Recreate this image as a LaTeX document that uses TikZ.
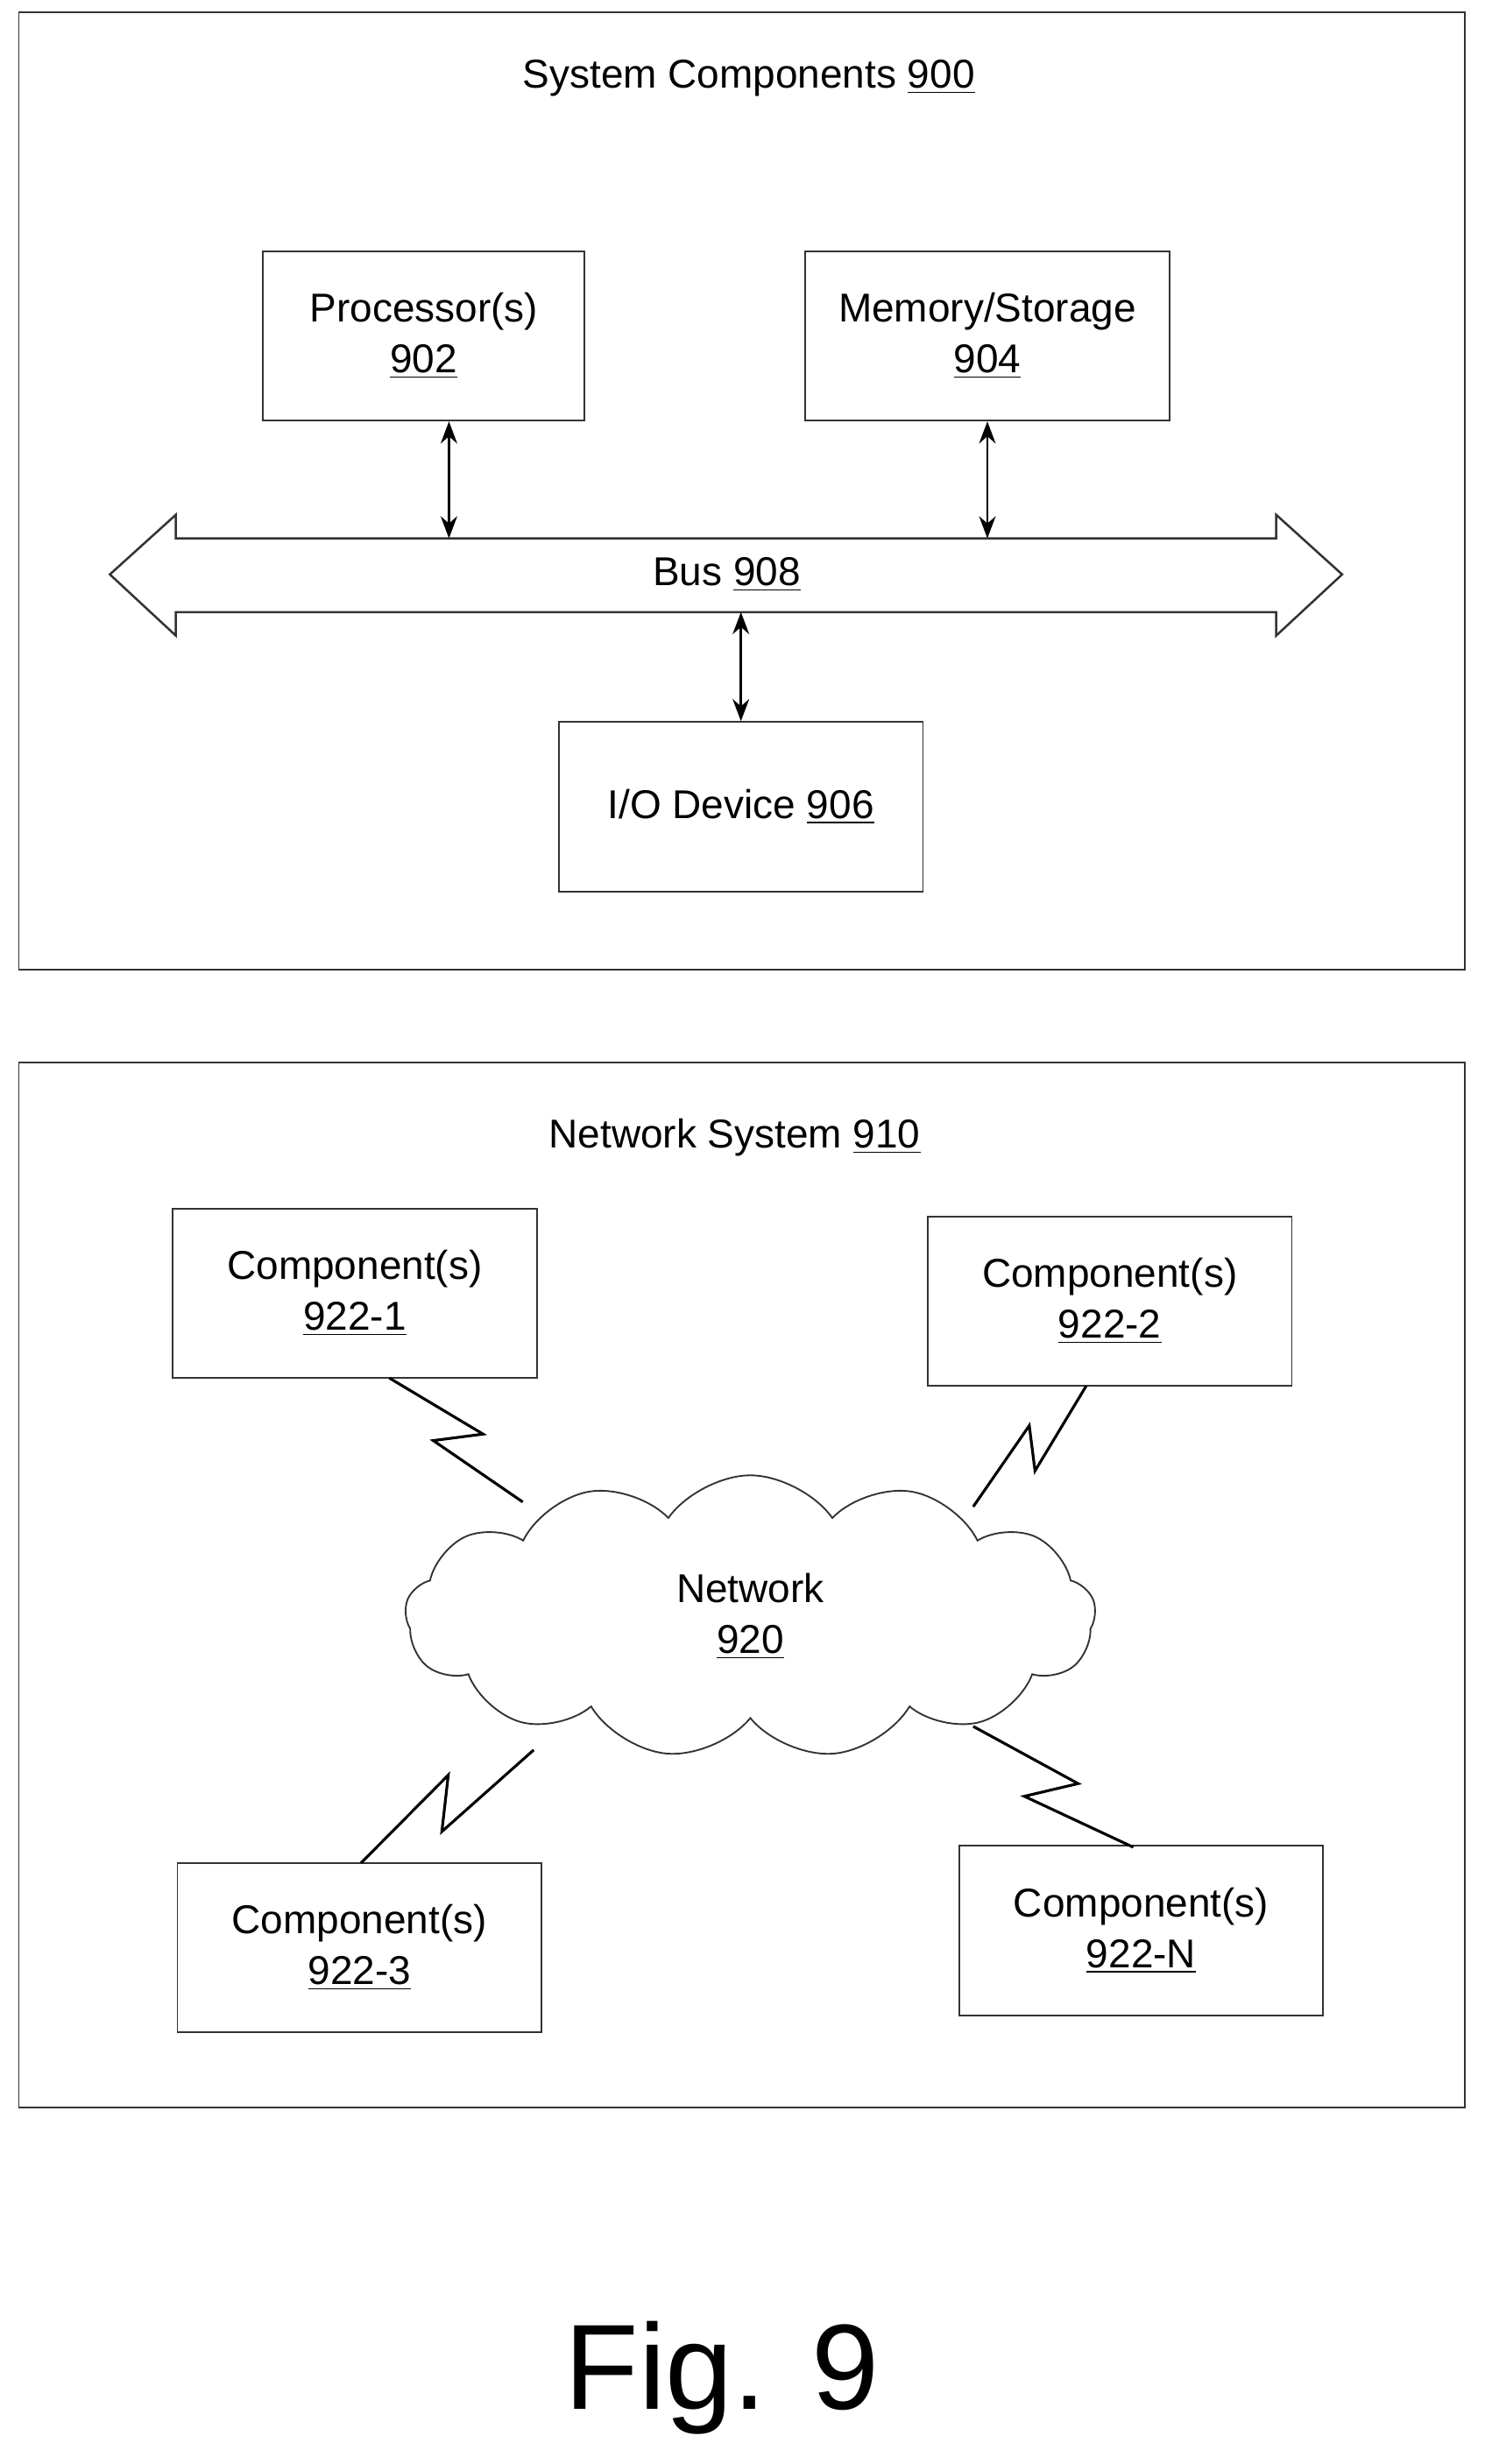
\documentclass[tikz,border=0pt]{standalone}
\usepackage{fontspec}
\setmainfont{Liberation Sans}
\usetikzlibrary{shapes.symbols,calc,arrows.meta}

\begin{document}
\begin{tikzpicture}[x=0.02cm, y=-0.02cm, thick,
    box/.style = {draw=black!80, line width=0.6pt},
    comp/.style = {draw=black!80, line width=0.6pt, rectangle, minimum width=4.64cm, minimum height=2.16cm, align=center, font=\fontsize{14.6}{18.5}\selectfont},
    lbl/.style = {font=\fontsize{14.6}{18.5}\selectfont},
    link/.style = {{Stealth[length=8pt,width=6pt]}-{Stealth[length=8pt,width=6pt]}, line width=0.9pt},
    bolt/.style = {line width=1pt}]
    \useasboundingbox (0,0) rectangle (946,1570);
    % system components
    \draw[box] (12,8) rectangle (933,618);
    \node[lbl] (t1) at (477,50) {System Components \underline{900}};
    \node[comp, minimum width=4.1cm] (proc) at (270,214) {Processor(s)\\\underline{902}};
    \node[comp] (mem) at (629,214) {Memory/Storage\\\underline{904}};
    \node[comp] (io) at (472,514) {I/O Device \underline{906}};
    \draw[box, line width=0.8pt] (70,366) -- (112,328) -- (112,343) -- (813,343) -- (813,328) -- (855,366)
        -- (813,405) -- (813,390) -- (112,390) -- (112,405) -- cycle;
    \node[lbl] (bus) at (463,366) {Bus \underline{908}};
    \coordinate (b1) at (286,343);
    \coordinate (b2) at (629,343);
    \coordinate (b3) at (472,390);
    \draw[link] (proc.south -| b1) -- (b1);
    \draw[link] (mem.south) -- (b2);
    \draw[link] (b3) -- (io.north);
    % network system
    \draw[box] (12,677) rectangle (933,1343);
    \node[lbl] (t2) at (468,725) {Network System \underline{910}};
    \node[comp] (c1) at (226,824) {Component(s)\\\underline{922-1}};
    \node[comp] (c2) at (707,829) {Component(s)\\\underline{922-2}};
    \node[comp] (c3) at (229,1241) {Component(s)\\\underline{922-3}};
    \node[comp] (cn) at (727,1230) {Component(s)\\\underline{922-N}};
    \node[cloud, cloud puffs=13, cloud puff arc=110, aspect=2.4, draw=black!80, line width=0.6pt,
        minimum width=8.8cm, minimum height=3.6cm, align=center, lbl] (net) at (478,1030) {Network\\\underline{920}};
    \coordinate (e1) at (333,957);
    \coordinate (e2) at (620,960);
    \coordinate (e3) at (340,1115);
    \coordinate (en) at (620,1100);
    \coordinate (s1) at (248,878);
    \coordinate (s2) at (692,883);
    \coordinate (s3) at (230,1187);
    \coordinate (sn) at (722,1177);
    \foreach \a/\b in {s1/e1, s2/e2, s3/e3, sn/en}
        \draw[bolt] (\a) -- ($(\a)!0.6!12:(\b)$) -- ($(\a)!0.42!-12:(\b)$) -- (\b);
    % caption
    \node[font=\fontsize{44}{50}\selectfont] (fig) at (460,1515) {Fig. 9};
\end{tikzpicture}
\end{document}
